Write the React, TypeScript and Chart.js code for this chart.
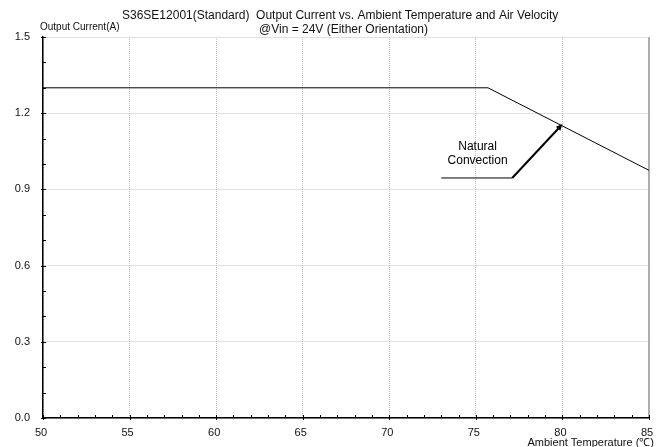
import React, { useEffect, useRef } from "react";
import { Chart, registerables } from "chart.js";

Chart.register(...registerables);

// ---- data ----
const titleLine1 = "S36SE12001(Standard)  Output Current vs. Ambient Temperature and Air Velocity";
const titleLine2 = "@Vin = 24V (Either Orientation)";
const yAxisTitle = "Output Current(A)";
const xAxisTitle = "Ambient Temperature (\u2103)";

const xTickValues = [50, 55, 60, 65, 70, 75, 80, 85];
const yTickValues = [0, 0.3, 0.6, 0.9, 1.2, 1.5];
const xMinorStep = 1;
const yMinorStep = 0.1;

const curveTemps = [50, 75.7, 85];
const curveCurrents = [1.3, 1.3, 0.975];

const annotTemps = [73.0, 77.1, 80.0];
const annotCurrents = [0.945, 0.945, 1.157];
const annotLabel = ["Natural", "Convection"];
const annotLabelTemp = 75.1;
const annotLabelCurrents = [1.067, 1.012];

const FONT = "'Liberation Sans', Arial, Helvetica, sans-serif";

export default function App() {
  const ref = useRef<HTMLCanvasElement | null>(null);

  useEffect(() => {
    document.body.style.margin = "0";
    const canvas = ref.current;
    if (!canvas) return;

    const overlay = {
      id: "overlay",
      afterDatasetsDraw(chart: any) {
        const ctx = chart.ctx as CanvasRenderingContext2D;
        const xs = chart.scales.x;
        const ys = chart.scales.y;
        const area = chart.chartArea;
        ctx.save();
        // minor / major ticks pointing inward
        ctx.strokeStyle = "#000";
        ctx.lineWidth = 1;
        ctx.beginPath();
        for (let v = xs.min; v <= xs.max + 1e-9; v += xMinorStep) {
          const px = Math.round(xs.getPixelForValue(v)) + 0.5;
          const major = xTickValues.some((t) => Math.abs(t - v) < 1e-6);
          ctx.moveTo(px, area.bottom - 3);
          ctx.lineTo(px, area.bottom + (major ? 2 : 0));
        }
        for (let v = ys.min; v <= ys.max + 1e-9; v += yMinorStep) {
          const py = Math.round(ys.getPixelForValue(v)) + 0.5;
          const major = yTickValues.some((t) => Math.abs(t - v) < 1e-6);
          ctx.moveTo(area.left - (major ? 2 : 0), py);
          ctx.lineTo(area.left + 3, py);
        }
        ctx.stroke();

        // annotation
        const p = annotTemps.map((t, i) => ({
          x: xs.getPixelForValue(t),
          y: ys.getPixelForValue(annotCurrents[i]),
        }));
        ctx.strokeStyle = "#000";
        ctx.lineWidth = 1;
        ctx.beginPath();
        ctx.moveTo(p[0].x, p[0].y);
        ctx.lineTo(p[1].x, p[1].y);
        ctx.stroke();
        const ang = Math.atan2(p[2].y - p[1].y, p[2].x - p[1].x);
        const headLen = 7;
        const shaftEnd = {
          x: p[2].x - Math.cos(ang) * headLen * 0.8,
          y: p[2].y - Math.sin(ang) * headLen * 0.8,
        };
        ctx.lineWidth = 2;
        ctx.beginPath();
        ctx.moveTo(p[1].x, p[1].y);
        ctx.lineTo(shaftEnd.x, shaftEnd.y);
        ctx.stroke();
        ctx.fillStyle = "#000";
        ctx.beginPath();
        ctx.moveTo(p[2].x, p[2].y);
        ctx.lineTo(
          p[2].x - headLen * Math.cos(ang - 0.45),
          p[2].y - headLen * Math.sin(ang - 0.45)
        );
        ctx.lineTo(
          p[2].x - headLen * Math.cos(ang + 0.45),
          p[2].y - headLen * Math.sin(ang + 0.45)
        );
        ctx.closePath();
        ctx.fill();

        ctx.font = `12px ${FONT}`;
        ctx.textAlign = "center";
        ctx.textBaseline = "middle";
        annotLabel.forEach((s, i) => {
          ctx.fillText(s, xs.getPixelForValue(annotLabelTemp), ys.getPixelForValue(annotLabelCurrents[i]));
        });

        // titles
        ctx.textAlign = "left";
        ctx.textBaseline = "alphabetic";
        ctx.font = `12px ${FONT}`;
        ctx.fillStyle = "#111";
        ctx.fillText(titleLine1, 122, 19);
        ctx.fillText(titleLine2, 259, 33);
        ctx.font = `10px ${FONT}`;
        ctx.fillText(yAxisTitle, 40, 30);
        ctx.textAlign = "right";
        ctx.font = `11px ${FONT}`;
        ctx.fillText(xAxisTitle, 654, 446);
        ctx.restore();
      },
    };

    const chart = new Chart(canvas, {
      type: "line",
      data: {
        datasets: [
          {
            data: curveTemps.map((t, i) => ({ x: t, y: curveCurrents[i] })),
            borderColor: "#000",
            borderWidth: 1,
            pointRadius: 0,
            tension: 0,
            fill: false,
          },
        ],
      },
      options: {
        responsive: false,
        animation: false,
        layout: { padding: { left: 0, top: 37, right: 9, bottom: 0 } },
        plugins: {
          legend: { display: false },
          title: { display: false },
          tooltip: { enabled: false },
        },
        scales: {
          x: {
            type: "linear",
            min: 50,
            max: 85,
            afterBuildTicks: (s: any) => {
              s.ticks = xTickValues.map((v) => ({ value: v }));
            },
            afterFit: (s: any) => {
              s.height = 29;
              s.paddingLeft = 0;
              s.paddingRight = 0;
            },
            ticks: {
              color: "#111",
              font: { family: FONT, size: 11 },
              padding: 8,
              labelOffset: -2,
              maxRotation: 0,
              autoSkip: false,
              callback: (v: any) => String(v),
            },
            grid: {
              drawTicks: false,
              color: (c: any) => (c.tick && c.tick.value === 85 ? "#adadad" : "#c0c0c0"),
              lineWidth: (c: any) => (c.tick && c.tick.value === 85 ? 2 : 1),
            },
            border: {
              color: "#000",
              width: 1.5,
              dash: (c: any) => (c.tick && c.tick.value === 85 ? [] : [1, 1]),
            },
          },
          y: {
            type: "linear",
            min: 0,
            max: 1.5,
            afterBuildTicks: (s: any) => {
              s.ticks = yTickValues.map((v) => ({ value: v }));
            },
            afterFit: (s: any) => {
              s.width = 43;
              s.paddingTop = 0;
              s.paddingBottom = 0;
            },
            ticks: {
              color: "#111",
              font: { family: FONT, size: 11 },
              padding: 13,
              autoSkip: false,
              callback: (v: any) => Number(v).toFixed(1),
            },
            grid: {
              drawTicks: false,
              color: "#c0c0c0",
              lineWidth: 1,
            },
            border: {
              color: "#000",
              width: 1.5,
              dash: [1, 1],
            },
          },
        },
      },
      plugins: [overlay],
    } as any);

    return () => chart.destroy();
  }, []);

  return (
    <div style={{ width: 658, height: 447 }}>
      <canvas ref={ref} width={658} height={447} style={{ display: "block" }} />
    </div>
  );
}
